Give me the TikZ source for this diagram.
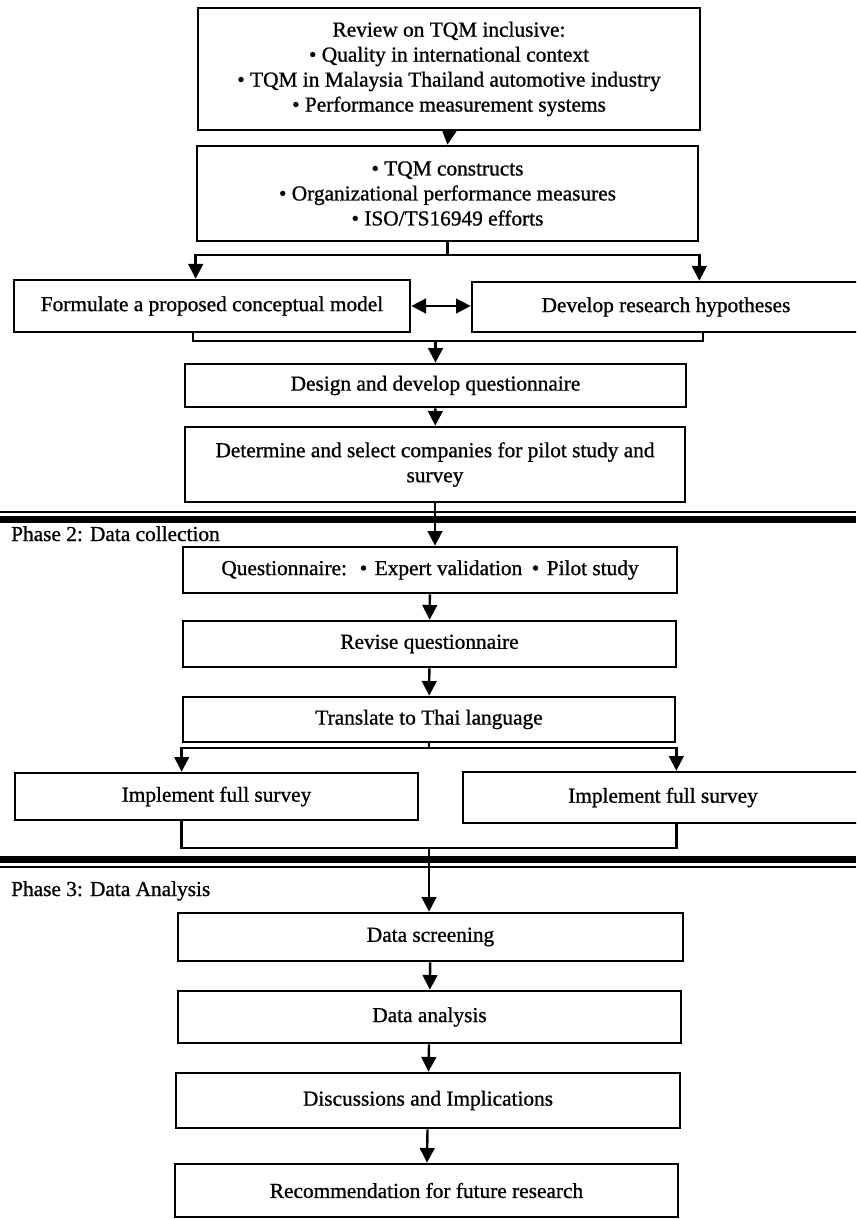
\documentclass[tikz,border=0pt]{standalone}
\usepackage{fontspec}
\setmainfont{Liberation Serif}[FakeBold=0.9]
\usetikzlibrary{arrows.meta, positioning}

\begin{document}
\begin{tikzpicture}[
  x=0.75pt, y=-0.75pt,
  every node/.style={font=\fontsize{16}{18.75}\selectfont},
  proc/.style={rectangle, draw, line width=2pt, align=center, inner sep=0pt},
  boxsize/.style 2 args={minimum width=#1*0.75pt, minimum height=#2*0.75pt},
  phaselabel/.style={anchor=base west, inner sep=0pt},
  phasebar/.style={line width=5.25pt},
  phaserule/.style={line width=1.5pt},
  line width=1.8pt,
  >={Triangle[length=11pt,width=11pt]}
]
\useasboundingbox (0,0) rectangle (856,1219);
\clip (0,0) rectangle (856,1219);

% Phase 1 nodes
\node[proc, boxsize={502}{122}] (review) at (449,69) {Review on TQM inclusive:\\• Quality in international context\\• TQM in Malaysia Thailand automotive industry\\• Performance measurement systems};
\node[proc, boxsize={501}{95}] (scope) at (447.5,193.5) {• TQM constructs\\• Organizational performance measures\\• ISO/TS16949 efforts};
\node[proc, boxsize={396}{52}] (model) at (212,306) {Formulate a proposed conceptual model};
\node[proc, boxsize={388}{50}] (hypo) at (666,307) {Develop research hypotheses};
\node[proc, boxsize={501}{43}] (design) at (435.5,385.5) {Design and develop questionnaire};
\node[proc, boxsize={500}{75}] (select) at (435,464.5) {Determine and select companies for pilot study and\\survey};

% Phase 2 nodes
\node[phaselabel] (phase2) at (10,541) {Phase 2: Data collection};
\node[proc, boxsize={494}{46}] (valid) at (430,570) {Questionnaire:\hspace{0.6em}•\hspace{0.35em}Expert validation\hspace{0.45em}•\hspace{0.35em}Pilot study};
\node[proc, boxsize={493}{46}] (revise) at (429.5,644) {Revise questionnaire};
\node[proc, boxsize={492}{45}] (translate) at (429,719.5) {Translate to Thai language};
\node[proc, boxsize={403}{47}] (surveyA) at (216.5,796.5) {Implement full survey};
\node[proc, boxsize={400}{51}] (surveyB) at (663,797.5) {Implement full survey};

% Phase 3 nodes
\node[phaselabel] (phase3) at (10,896) {Phase 3: Data Analysis};
\node[proc, boxsize={505}{48}] (screen) at (430.5,937) {Data screening};
\node[proc, boxsize={503}{52}] (analysis) at (429.5,1017) {Data analysis};
\node[proc, boxsize={504}{55}] (discuss) at (428,1100.5) {Discussions and Implications};
\node[proc, boxsize={503}{53}] (future) at (426.5,1190.5) {Recommendation for future research};

% Phase separators
\draw[phaserule] (0,512) -- (856,512);
\draw[phasebar] (0,519.5) -- (856,519.5);
\draw[phasebar] (0,859.5) -- (856,859.5);
\draw[phaserule] (0,867) -- (856,867);

% Arrows
\draw[->] (review.south) -- (scope.north);
\coordinate (split1) at (scope.south |- 0,255);
\draw (scope.south) -- (split1);
\draw[->] (split1) -| (scope.west |- model.north);
\draw[->] (split1) -| (scope.east |- hypo.north);
\draw[<->] (model.east) -- (model.east -| hypo.west);
\coordinate (joinL) at (193,341);
\coordinate (joinR) at (703,341);
\draw (joinL |- model.south) -- (joinL) -- (joinR) -- (joinR |- hypo.south);
\draw[->] (joinL -| design.north) -- (design.north);
\draw[->] (design) -- (select);
\draw[->] (select.south) -- (select.south |- valid.north);
\draw[->] (valid) -- (revise);
\draw[->] (revise) -- (translate);
\coordinate (split2) at (translate.south |- 0,748);
\draw (translate.south) -- (split2);
\draw[->] (split2) -| (translate.west |- surveyA.north);
\draw[->] (split2) -| (translate.east |- surveyB.north);
\coordinate (join2) at (translate.south |- 0,848);
\draw (translate.west |- surveyA.south) |- (join2) -| (translate.east |- surveyB.south);
\draw[->] (join2) -- (join2 |- screen.north);
\draw[->] (screen) -- (analysis);
\draw[->] (analysis) -- (discuss);
\draw[->] (discuss) -- (future);

\end{tikzpicture}
\end{document}
